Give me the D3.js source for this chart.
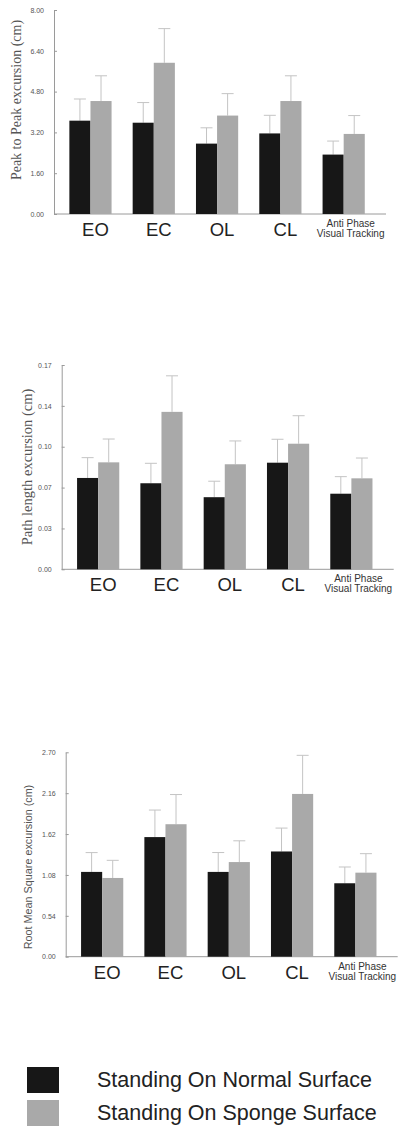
<!DOCTYPE html>
<html>
<head>
<meta charset="utf-8">
<script src="https://cdn.jsdelivr.net/npm/d3@7"></script>
<style>
  html, body { margin: 0; padding: 0; background: #fff; }
  svg { display: block; }
</style>
</head>
<body>
<svg id="chart" width="398" height="1127"></svg>
<script>
// Conditions (shared by all three panels)
const categories = ["EO", "EC", "OL", "CL", "Anti Phase|Visual Tracking"];
const seriesNames = ["Standing On Normal Surface", "Standing On Sponge Surface"];

// Peak to peak excursion (cm): means and SD
const peakNormal   = [3.66, 3.58, 2.76, 3.16, 2.33];
const peakNormalSD = [0.85, 0.79, 0.62, 0.71, 0.53];
const peakSponge   = [4.43, 5.93, 3.86, 4.43, 3.14];
const peakSpongeSD = [0.99, 1.34, 0.86, 0.99, 0.72];
const peakTicks    = [0, 1.6, 3.2, 4.8, 6.4, 8.0];

// Path length excursion (cm)
const pathNormal   = [0.076, 0.0716, 0.060, 0.0887, 0.0629];
const pathNormalSD = [0.0169, 0.0166, 0.0133, 0.0195, 0.0142];
const pathSponge   = [0.089, 0.131, 0.0874, 0.1045, 0.0757];
const pathSpongeSD = [0.0194, 0.030, 0.0194, 0.0233, 0.0169];
const pathTicks    = [0, 0.034, 0.068, 0.102, 0.136, 0.17];

// Root mean square excursion (cm)
const rmsNormal    = [1.12, 1.58, 1.12, 1.39, 0.97];
const rmsNormalSD  = [0.255, 0.357, 0.256, 0.309, 0.215];
const rmsSponge    = [1.04, 1.75, 1.25, 2.15, 1.11];
const rmsSpongeSD  = [0.233, 0.392, 0.281, 0.51, 0.251];
const rmsTicks     = [0, 0.54, 1.08, 1.62, 2.16, 2.70];

const colors = ["#171717", "#a9a9a9"];

const svg = d3.select("#chart");
svg.append("rect").attr("width", 398).attr("height", 1127).attr("fill", "#fff");

const panels = [
  { left: 54, top: 10, bottom: 214,
    label: "Peak to Peak excursion (cm)", labelFont: "'Liberation Serif', 'Times New Roman', serif",
    labelSize: 14, labelX: 18, labelY: 100,
    normal: peakNormal, normalSD: peakNormalSD, sponge: peakSponge, spongeSD: peakSpongeSD,
    ticks: peakTicks },
  { left: 61.7, top: 365, bottom: 569.3,
    label: "Path length excursion (cm)", labelFont: "'Liberation Serif', 'Times New Roman', serif",
    labelSize: 14.5, labelX: 29, labelY: 467,
    normal: pathNormal, normalSD: pathNormalSD, sponge: pathSponge, spongeSD: pathSpongeSD,
    ticks: pathTicks },
  { left: 65.7, top: 752.3, bottom: 956.7,
    label: "Root Mean Square excursion (cm)", labelFont: "'Liberation Sans', Arial, sans-serif",
    labelSize: 10.8, labelX: 29, labelY: 867,
    normal: rmsNormal, normalSD: rmsNormalSD, sponge: rmsSponge, spongeSD: rmsSpongeSD,
    ticks: rmsTicks }
];

const axisWidth = 332;

panels.forEach(p => {
  const g = svg.append("g");

  const x = d3.scaleBand()
    .domain(categories)
    .range([p.left, p.left + axisWidth])
    .paddingInner(1 / 3)
    .paddingOuter(0.289)
    .align(0.42);

  const xs = d3.scaleBand()
    .domain([0, 1])
    .range([0, x.bandwidth()]);

  const y = d3.scaleLinear()
    .domain([0, d3.max(p.ticks)])
    .range([p.bottom, p.top]);

  // y axis
  const yAxis = d3.axisLeft(y)
    .tickValues(p.ticks)
    .tickFormat(d3.format(".2f"))
    .tickSizeInner(-3)
    .tickSizeOuter(0)
    .tickPadding(10);
  const ya = g.append("g")
    .attr("transform", `translate(${p.left},0)`)
    .call(yAxis);
  ya.select(".domain").attr("stroke", "#9a9a9a");
  ya.selectAll(".tick line").attr("stroke", "#9a9a9a");
  ya.selectAll(".tick text")
    .attr("fill", "#555")
    .attr("font-family", "'Liberation Sans', Arial, sans-serif")
    .attr("font-size", 7);

  // baseline
  g.append("line")
    .attr("x1", p.left).attr("x2", p.left + axisWidth)
    .attr("y1", y(0)).attr("y2", y(0))
    .attr("stroke", "#9a9a9a").attr("stroke-width", 1);

  const rows = categories.map((c, i) => ({
    cat: c,
    vals: [
      { s: 0, v: p.normal[i], e: p.normalSD[i] },
      { s: 1, v: p.sponge[i], e: p.spongeSD[i] }
    ]
  }));

  const grp = g.selectAll(".grp").data(rows).join("g")
    .attr("class", "grp")
    .attr("transform", d => `translate(${x(d.cat)},0)`);

  // error bars (drawn first so bars sit on top)
  const err = grp.selectAll(".err").data(d => d.vals).join("g").attr("class", "err");
  err.append("line")
    .attr("x1", d => xs(d.s) + xs.bandwidth() / 2)
    .attr("x2", d => xs(d.s) + xs.bandwidth() / 2)
    .attr("y1", d => y(d.v))
    .attr("y2", d => y(d.v + d.e))
    .attr("stroke", "#c4c4c4").attr("stroke-width", 1);
  err.append("line")
    .attr("x1", d => xs(d.s) + xs.bandwidth() / 2 - 6)
    .attr("x2", d => xs(d.s) + xs.bandwidth() / 2 + 6)
    .attr("y1", d => y(d.v + d.e))
    .attr("y2", d => y(d.v + d.e))
    .attr("stroke", "#c4c4c4").attr("stroke-width", 1);

  grp.selectAll(".bar").data(d => d.vals).join("rect")
    .attr("class", "bar")
    .attr("x", d => xs(d.s))
    .attr("width", xs.bandwidth())
    .attr("y", d => y(d.v))
    .attr("height", d => y(0) - y(d.v))
    .attr("fill", d => colors[d.s]);

  // category labels
  categories.forEach(c => {
    const cx = x(c) + x.bandwidth() / 2 + 5;
    const parts = c.split("|");
    if (parts.length === 1) {
      g.append("text")
        .attr("x", cx).attr("y", y(0) + 22)
        .attr("text-anchor", "middle")
        .attr("font-family", "'Liberation Sans', Arial, sans-serif")
        .attr("font-size", 18.5)
        .attr("fill", "#222")
        .text(c);
    } else {
      parts.forEach((t, k) => {
        g.append("text")
          .attr("x", cx + 2).attr("y", y(0) + 13 + k * 10)
          .attr("text-anchor", "middle")
          .attr("font-family", "'Liberation Sans', Arial, sans-serif")
          .attr("font-size", 10)
          .attr("fill", "#333")
          .text(t);
      });
    }
  });

  // y axis title
  g.append("text")
    .attr("transform", `translate(${p.labelX},${p.labelY}) rotate(-90)`)
    .attr("text-anchor", "middle")
    .attr("dominant-baseline", "middle")
    .attr("font-family", p.labelFont)
    .attr("font-size", p.labelSize)
    .attr("fill", "#555")
    .text(p.label);
});

// legend
const legend = svg.append("g");
seriesNames.forEach((name, i) => {
  const y0 = 1067 + i * 33;
  legend.append("rect")
    .attr("x", 27).attr("y", y0)
    .attr("width", 32).attr("height", 26)
    .attr("fill", colors[i]);
  legend.append("text")
    .attr("x", 97).attr("y", y0 + 20)
    .attr("font-family", "'Liberation Sans', Arial, sans-serif")
    .attr("font-size", 21.5)
    .attr("fill", "#222")
    .text(name);
});
</script>
</body>
</html>
